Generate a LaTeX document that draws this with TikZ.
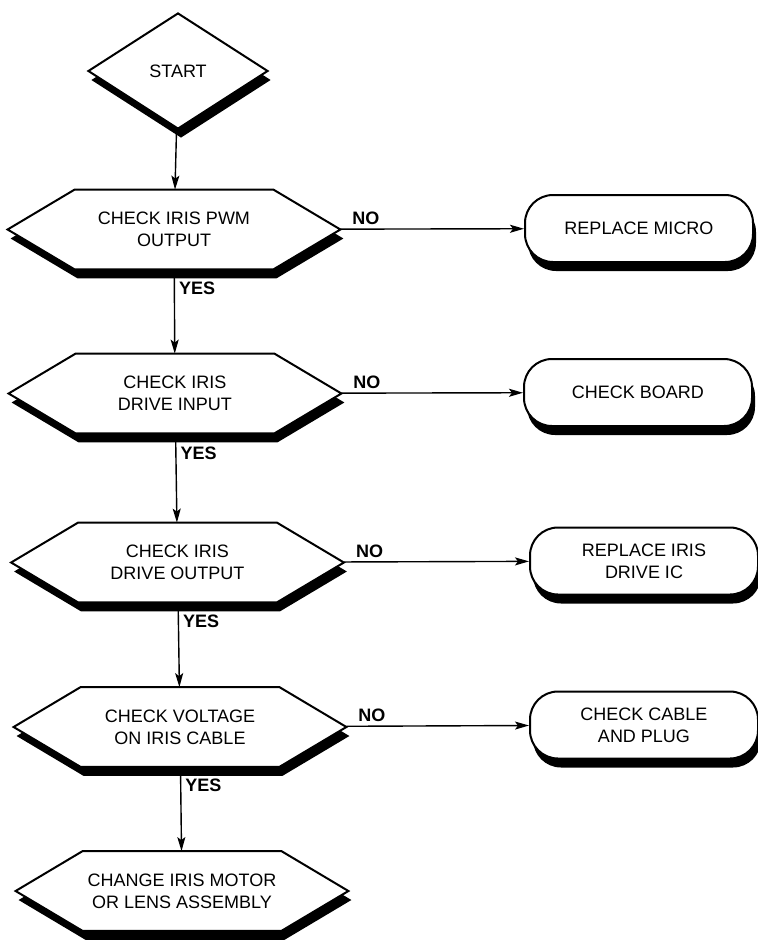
\documentclass[tikz,border=0pt]{standalone}
\usepackage{fontspec}
\setmainfont{Liberation Sans}
\usetikzlibrary{arrows.meta,shapes.geometric,shadows,backgrounds}

\begin{document}
\begin{tikzpicture}[x=0.5pt,y=-0.5pt,
    font=\fontsize{9}{11}\selectfont,
    blackshadow/.style={drop shadow={shadow xshift=1.5pt,shadow yshift=-4.5pt,opacity=1,fill=black}},
    startbox/.style={diamond,draw,line width=1pt,fill=white,blackshadow,minimum width=90pt,minimum height=58pt,inner sep=0pt},
    testbox/.style={rectangle,minimum width=166pt,minimum height=39.5pt,inner sep=0pt,align=center},
    endbox/.style={rectangle,draw,line width=1pt,fill=white,blackshadow,rounded corners=14pt,minimum width=114pt,minimum height=33.5pt,inner sep=2pt,align=center},
    flow/.style={-{Stealth[length=7pt,width=4pt,inset=1.5pt]},line width=0.7pt},
    answer/.style={font=\fontsize{9}{11}\selectfont\bfseries,inner sep=2pt}]
  \useasboundingbox (0,0) rectangle (758,942);

  % main column
  \node[startbox] (start) at (178,71) {START};
  \node[testbox] (pwm) at (174,229.5) {CHECK IRIS PWM\\OUTPUT};
  \node[testbox] (input) at (175,393.5) {CHECK IRIS\\DRIVE INPUT};
  \node[testbox] (output) at (177.5,562.5) {CHECK IRIS\\DRIVE OUTPUT};
  \node[testbox] (cable) at (180,727) {CHECK VOLTAGE\\ON IRIS CABLE};
  \node[testbox] (motor) at (182,891) {CHANGE IRIS MOTOR\\OR LENS ASSEMBLY};

  % right column
  \node[endbox] (micro) at (639,228.5) {REPLACE MICRO};
  \node[endbox] (board) at (638,392.5) {CHECK BOARD};
  \node[endbox] (driveic) at (644,561) {REPLACE IRIS\\DRIVE IC};
  \node[endbox] (plug) at (644,725) {CHECK CABLE\\AND PLUG};

  % hexagon outlines behind the text
  \begin{scope}[on background layer]
    \foreach \n in {pwm,input,output,cable,motor}
      \draw[line width=1pt,fill=white,blackshadow] (\n.west) -- ([shift={(67,0)}]\n.north west) -- ([shift={(-67,0)}]\n.north east) -- (\n.east) -- ([shift={(-67,0)}]\n.south east) -- ([shift={(67,0)}]\n.south west) -- cycle;
  \end{scope}

  \draw[flow] (start) -- (pwm);
  \draw[flow] (pwm) -- node[answer,pos=0.22,right] {YES} (input);
  \draw[flow] (input) -- node[answer,pos=0.22,right] {YES} (output);
  \draw[flow] (output) -- node[answer,pos=0.22,right] {YES} (cable);
  \draw[flow] (cable) -- node[answer,pos=0.22,right] {YES} (motor);

  \draw[flow] (pwm) -- node[answer,pos=0.04,above right] {NO} (micro);
  \draw[flow] (input) -- node[answer,pos=0.04,above right] {NO} (board);
  \draw[flow] (output) -- node[answer,pos=0.04,above right] {NO} (driveic);
  \draw[flow] (cable) -- node[answer,pos=0.04,above right] {NO} (plug);
\end{tikzpicture}
\end{document}
